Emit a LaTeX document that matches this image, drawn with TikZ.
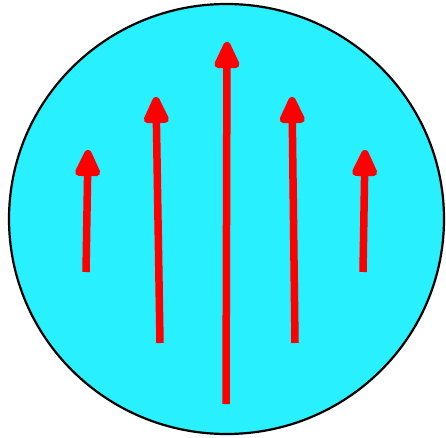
\documentclass[tikz,border=0pt]{standalone}
\usetikzlibrary{arrows.meta}
\definecolor{aqua}{RGB}{40,240,255}
\definecolor{arrred}{RGB}{255,0,0}
\begin{document}
\begin{tikzpicture}[x=1pt,y=1pt,
  disc/.style={draw=black,line width=2.2pt,fill=aqua},
  uparrow/.style={draw=arrred,line width=7.5pt,-{Triangle[length=32pt,width=27pt,round]}}]
\useasboundingbox (0,0) rectangle (446,437);
\draw[disc] (226.5,218) ellipse [x radius=217.5, y radius=215];
\coordinate (a1) at (86,165);
\coordinate (b1) at (88,287);
\coordinate (a2) at (160,94);
\coordinate (b2) at (156,340);
\coordinate (a3) at (226,33);
\coordinate (b3) at (227,395);
\coordinate (a4) at (295,94);
\coordinate (b4) at (292,340);
\coordinate (a5) at (363,165);
\coordinate (b5) at (365,287);
\foreach \i in {1,...,5} \draw[uparrow] (a\i) -- (b\i);
\end{tikzpicture}
\end{document}
